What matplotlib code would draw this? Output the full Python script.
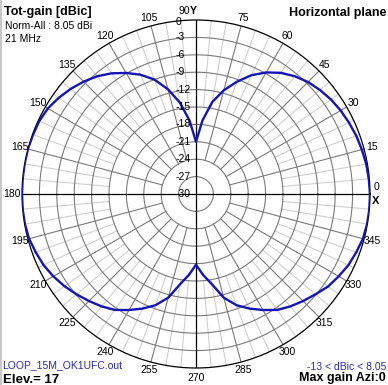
import numpy as np
import matplotlib
matplotlib.use("Agg")
import matplotlib.pyplot as plt

# ---- data ----
azimuth_deg = [0, 5, 10, 15, 20, 25, 30, 35, 40, 45, 50, 55, 60, 65, 70, 75, 80, 85,
               90, 95, 100, 105, 110, 115, 120, 125, 130, 135, 140, 145, 150, 155, 160, 165, 170, 175,
               180, 185, 190, 195, 200, 205, 210, 215, 220, 225, 230, 235, 240, 245, 250, 255, 260, 265,
               270, 275, 280, 285, 290, 295, 300, 305, 310, 315, 320, 325, 330, 335, 340, 345, 350, 355, 360]
gain_db = [0.0, -0.1, -0.2, -0.4, -0.6, -0.9, -1.2, -1.6, -2.1, -2.7, -3.5, -4.5, -5.8, -7.4, -9.4, -11.5, -13.9, -17.3,
           -21.0, -17.3, -14.0, -11.3, -9.0, -7.3, -5.9, -4.6, -3.5, -2.6, -1.8, -1.1, -0.5, -0.2, -0.1, 0.0, 0.0, 0.0,
           0.0, 0.0, -0.05, -0.2, -0.6, -1.0, -1.6, -2.3, -3.1, -3.9, -4.7, -5.6, -6.9, -8.2, -9.6, -11.5, -14.2, -16.0,
           -17.8, -16.0, -14.2, -11.5, -9.6, -8.2, -6.9, -5.6, -4.7, -3.9, -3.1, -2.2, -1.6, -1.0, -0.6, -0.2, -0.05, 0.0, 0.0]
ring_values = [0, -3, -6, -9, -12, -15, -18, -21, -24, -27, -30]
angle_labels = [0, 15, 30, 45, 60, 75, 90, 105, 120, 135, 150, 165, 180,
                195, 210, 225, 240, 255, 270, 285, 300, 315, 330, 345]

W, H = 388, 385
CX, CY, R = 196, 194, 174

fig = plt.figure(figsize=(W / 100, H / 100), dpi=100)
fig.patch.set_facecolor("white")
ax = fig.add_axes([(CX - R) / W, (H - CY - R) / H, 2 * R / W, 2 * R / H], projection="polar")
ax.set_ylim(-30, 0)
ax.set_theta_zero_location("E")
ax.set_theta_direction(1)
ax.grid(False)
ax.set_xticks([])
ax.set_yticks([])
ax.spines["polar"].set_color("black")
ax.spines["polar"].set_linewidth(0.9)

FONT = "Liberation Sans"
dark = "#7a7a7a"
light = "#d0d0d0"
th_full = np.linspace(0, 2 * np.pi, 721)

# light spokes every 5 degrees (outer part only)
for a in range(0, 360, 5):
    if a % 15:
        t = np.radians(a)
        ax.plot([t, t], [-15, 0], color=light, lw=0.8, zorder=1)
# rings
for v in ring_values[1:-1]:
    ax.plot(th_full, np.full_like(th_full, v), color=dark, lw=0.8, zorder=2)
# dark spokes every 15 degrees
for a in range(0, 360, 15):
    if a % 90:
        t = np.radians(a)
        ax.plot([t, t], [-24, 0], color=dark, lw=0.8, zorder=2)
# main axes
for a in (0, 90, 180, 270):
    t = np.radians(a)
    ax.plot([t, t], [-30, 0], color="black", lw=0.9, zorder=3)

# pattern
ax.plot(np.radians(azimuth_deg), gain_db, color="#1414b4", lw=1.7, zorder=5)

# radial labels
for v in ring_values:
    dy = -2 if v == 0 else 0
    ax.annotate(str(v), xy=(np.pi / 2, v), xytext=(-20, dy), textcoords="offset pixels",
                ha="left", va="center", fontsize=7.5, family=FONT, color="black", zorder=6)

# angle labels
for a in angle_labels:
    t = np.radians(a)
    if a == 0:
        ax.annotate("0", xy=(t, 0), xytext=(4, 2), textcoords="offset pixels",
                    ha="left", va="bottom", fontsize=7.5, family=FONT)
        ax.annotate("X", xy=(t, 0), xytext=(2, -2), textcoords="offset pixels",
                    ha="left", va="top", fontsize=8, family=FONT, fontweight="bold")
        continue
    if a == 90:
        ax.annotate("90", xy=(t, 0), xytext=(-6, 9), textcoords="offset pixels",
                    ha="right", va="center", fontsize=7.5, family=FONT)
        ax.annotate("Y", xy=(t, 0), xytext=(-6, 9), textcoords="offset pixels",
                    ha="left", va="center", fontsize=7.5, family=FONT, fontweight="bold")
        continue
    off = 10 if a in (180, 270) else 8
    ax.annotate(str(a), xy=(t, 0), xytext=(off * np.cos(t), off * np.sin(t)),
                textcoords="offset pixels", ha="center", va="center",
                fontsize=7.5, family=FONT)

def ftext(x, y, s, **kw):
    fig.text(x / W, 1 - y / H, s, family=FONT, va="baseline", **kw)

blue = "#2a2aa8"
ftext(4, 15, "Tot-gain [dBic]", fontsize=9, fontweight="bold")
ftext(5, 29, "Norm-All : 8.05 dBi", fontsize=7.5)
ftext(5, 42, "21 MHz", fontsize=7.5)
ftext(386, 16, "Horizontal plane", fontsize=9, fontweight="bold", ha="right")
ftext(2, 368, "LOOP_15M_OK1UFC.out", fontsize=7.5, color=blue)
ftext(3, 383, "Elev.= 17", fontsize=9.5, fontweight="bold")
ftext(386, 370, "-13 < dBic < 8.05", fontsize=7.5, color=blue, ha="right")
ftext(386, 381.5, "Max gain Azi:0", fontsize=9, fontweight="bold", ha="right")

fig.add_artist(plt.Line2D([1 / W, 1 / W], [0, 1], transform=fig.transFigure, color="#c8c8c8", lw=1.5))

fig.savefig("out.png", dpi=100, facecolor="white")
